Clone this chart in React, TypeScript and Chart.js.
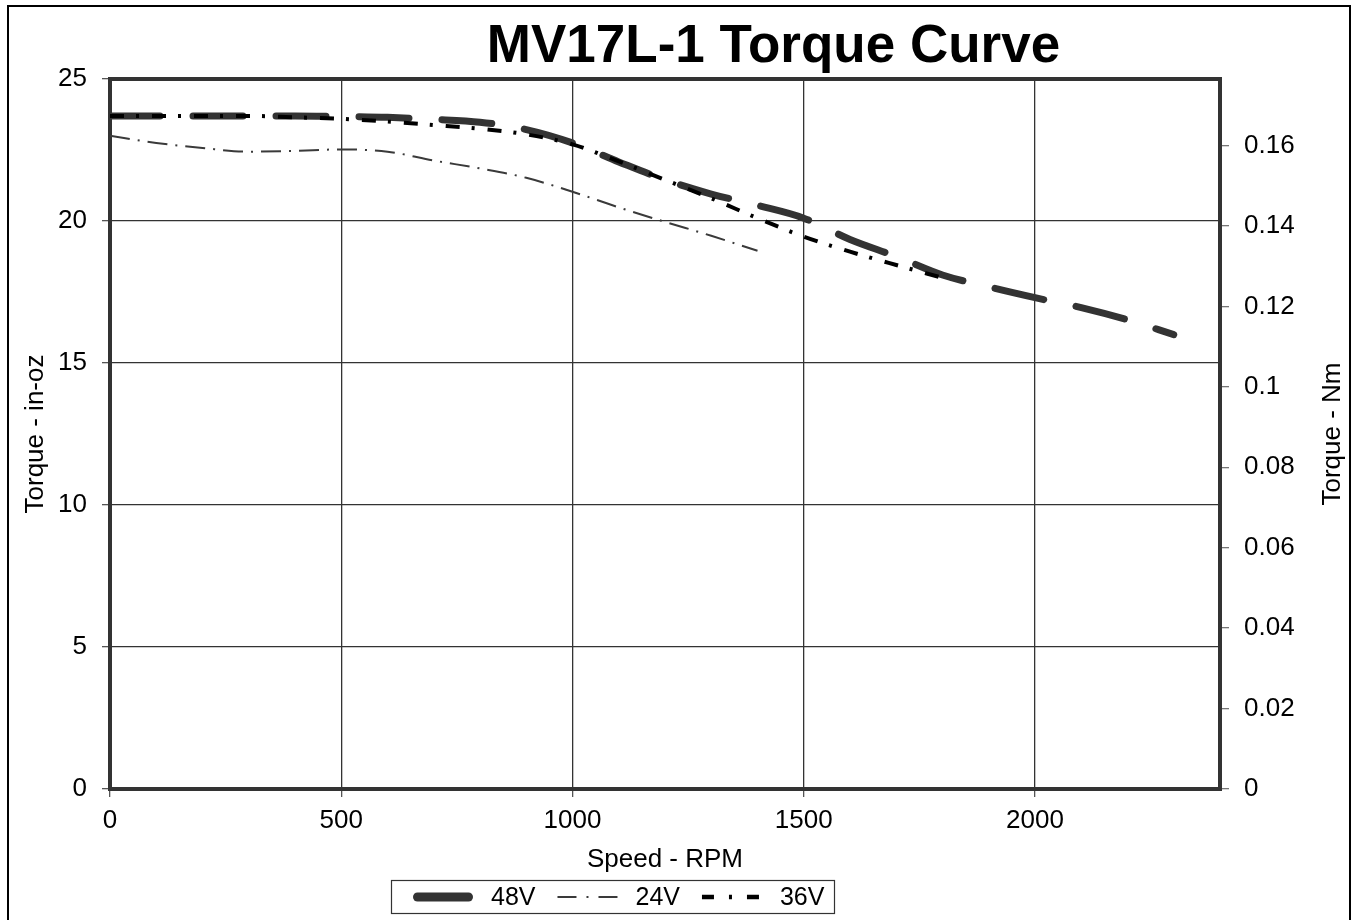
import React, { useEffect, useRef } from "react";
import { Chart, registerables } from "chart.js";

Chart.register(...registerables);

// ---------- text ----------
const TITLE = "MV17L-1 Torque Curve";
const X_TITLE = "Speed - RPM";
const Y_TITLE = "Torque - in-oz";
const Y2_TITLE = "Torque - Nm";
const SERIES_LABELS = ["48V", "24V", "36V"];

// ---------- data (speed in RPM, torque in in-oz) ----------
const RPM_48 = [0, 100, 200, 300, 400, 500, 600, 700, 800, 900, 1000, 1100, 1200, 1300, 1400, 1500, 1600, 1700, 1800, 1900, 2000, 2100, 2200, 2300];
const TORQUE_48 = [23.7, 23.7, 23.7, 23.7, 23.7, 23.68, 23.65, 23.58, 23.48, 23.22, 22.75, 22.08, 21.45, 20.95, 20.55, 20.1, 19.35, 18.75, 18.1, 17.68, 17.3, 16.95, 16.52, 16.0];

const RPM_24 = [0, 100, 200, 300, 400, 500, 600, 700, 800, 900, 1000, 1100, 1200, 1300, 1400];
const TORQUE_24 = [23.0, 22.75, 22.57, 22.44, 22.47, 22.52, 22.44, 22.13, 21.85, 21.52, 21.03, 20.48, 19.97, 19.48, 18.95];

const RPM_36 = [0, 100, 200, 300, 400, 500, 600, 700, 800, 900, 1000, 1100, 1200, 1300, 1400, 1500, 1600, 1700, 1800];
const TORQUE_36 = [23.7, 23.7, 23.7, 23.7, 23.65, 23.6, 23.5, 23.38, 23.25, 23.05, 22.7, 22.1, 21.45, 20.8, 20.1, 19.45, 18.92, 18.45, 18.0];

// ---------- axes ----------
const X_MIN = 0;
const X_MAX = 2400;
const X_TICKS = [0, 500, 1000, 1500, 2000];
const Y_MIN = 0;
const Y_MAX = 25;
const Y_STEP = 5;
const NM_PER_INOZ = 0.00706155;
const Y2_STEP = 0.02;

const FONT = "'Liberation Sans', Arial, Helvetica, sans-serif";

const toPoints = (xs: number[], ys: number[]) => xs.map((x, i) => ({ x, y: ys[i] }));

const framePlugin = {
  id: "plotFrame",
  beforeDatasetsDraw(chart: any) {
    const { ctx, chartArea: a } = chart;
    ctx.save();
    ctx.strokeStyle = "#333";
    ctx.lineWidth = 4;
    ctx.strokeRect(a.left, a.top, a.right - a.left, a.bottom - a.top);
    ctx.restore();
  },
};

const textPlugin = {
  id: "extraText",
  afterDraw(chart: any) {
    const { ctx, chartArea: a } = chart;
    ctx.save();
    ctx.fillStyle = "#000";
    ctx.font = `bold 53px ${FONT}`;
    ctx.textAlign = "center";
    ctx.textBaseline = "alphabetic";
    ctx.fillText(TITLE, 773.5, 62);
    ctx.restore();

    ctx.save();
    ctx.fillStyle = "#000";
    ctx.font = `26px ${FONT}`;
    ctx.translate(1333, (a.top + a.bottom) / 2);
    ctx.rotate(-Math.PI / 2);
    ctx.textAlign = "center";
    ctx.textBaseline = "middle";
    ctx.fillText(Y2_TITLE, 0, 0);
    ctx.restore();
  },
};

const legendPlugin = {
  id: "boxLegend",
  afterDraw(chart: any) {
    const ctx = chart.ctx;
    const boxL = 391.5;
    const boxT = 880.5;
    const boxW = 443;
    const boxH = 33;
    ctx.save();
    ctx.strokeStyle = "#333";
    ctx.lineWidth = 1.2;
    ctx.strokeRect(boxL, boxT, boxW, boxH);
    const cy = boxT + boxH / 2;
    ctx.font = `25px ${FONT}`;
    ctx.textBaseline = "middle";
    ctx.textAlign = "left";
    let x = 413;
    chart.data.datasets.forEach((ds: any) => {
      ctx.save();
      ctx.strokeStyle = ds.borderColor;
      ctx.lineWidth = ds.legendWidth;
      ctx.lineCap = ds.legendCap;
      ctx.setLineDash(ds.legendDash);
      const inset = ds.legendCap === "round" ? ds.legendWidth / 2 : 0;
      ctx.beginPath();
      ctx.moveTo(x + inset, cy);
      ctx.lineTo(x + 60 - inset, cy);
      ctx.stroke();
      ctx.restore();
      ctx.fillStyle = "#000";
      ctx.fillText(ds.label, x + 78, cy + 1);
      x += 78 + ctx.measureText(ds.label).width + 22;
    });
    ctx.restore();
  },
};

export default function App() {
  const ref = useRef<HTMLCanvasElement | null>(null);

  useEffect(() => {
    if (!ref.current) return;
    Chart.defaults.font.family = FONT;
    const tickFont = { family: FONT, size: 26 };
    const chart = new Chart(ref.current, {
      type: "line",
      data: {
        datasets: [
          {
            label: SERIES_LABELS[0],
            data: toPoints(RPM_48, TORQUE_48),
            borderColor: "#333333",
            borderWidth: 7,
            borderDash: [50, 33],
            borderCapStyle: "round",
            pointRadius: 0,
            cubicInterpolationMode: "monotone",
            fill: false,
            order: 2,
            legendDash: [],
            legendWidth: 9,
            legendCap: "round",
          } as any,
          {
            label: SERIES_LABELS[1],
            data: toPoints(RPM_24, TORQUE_24),
            borderColor: "#3a3a3a",
            borderWidth: 2,
            borderDash: [20, 8, 2, 8],
            borderCapStyle: "butt",
            pointRadius: 0,
            cubicInterpolationMode: "monotone",
            fill: false,
            order: 1,
            legendDash: [19, 10, 2, 10],
            legendWidth: 2,
            legendCap: "butt",
          } as any,
          {
            label: SERIES_LABELS[2],
            data: toPoints(RPM_36, TORQUE_36),
            borderColor: "#000000",
            borderWidth: 4,
            borderDash: [14, 12, 3, 13],
            borderCapStyle: "butt",
            pointRadius: 0,
            cubicInterpolationMode: "monotone",
            fill: false,
            order: 0,
            legendDash: [12, 15, 3, 15],
            legendWidth: 4.5,
            legendCap: "butt",
          } as any,
        ],
      },
      options: {
        animation: false,
        responsive: false,
        maintainAspectRatio: false,
        layout: { padding: { top: 79, left: 0, right: 0, bottom: 0 } },
        plugins: {
          legend: { display: false },
          title: { display: false },
          tooltip: { enabled: false },
        },
        scales: {
          x: {
            type: "linear",
            position: "bottom",
            min: X_MIN,
            max: X_MAX,
            afterBuildTicks: (s: any) => {
              s.ticks = X_TICKS.map((v) => ({ value: v }));
            },
            ticks: {
              padding: 8,
              color: "#000",
              font: tickFont,
              maxRotation: 0,
              autoSkip: false,
              callback: (v: any) => String(v),
            },
            grid: { color: "#333", lineWidth: 1.3, tickLength: 8, tickColor: "#555" },
            border: { display: false },
            title: {
              display: true,
              text: X_TITLE,
              color: "#000",
              font: tickFont,
              padding: { top: 0, bottom: 44.4 },
            },
            afterFit: (s: any) => {
              s.height = 131;
            },
          },
          y: {
            type: "linear",
            position: "left",
            min: Y_MIN,
            max: Y_MAX,
            ticks: { stepSize: Y_STEP, padding: 15, color: "#000", font: tickFont },
            grid: { color: "#333", lineWidth: 1.3, tickLength: 8, tickColor: "#555" },
            border: { display: false },
            title: {
              display: true,
              text: Y_TITLE,
              color: "#000",
              font: tickFont,
              padding: { top: 20, bottom: 0 },
            },
            afterFit: (s: any) => {
              s.width = 110;
            },
          },
          y1: {
            type: "linear",
            position: "right",
            min: Y_MIN * NM_PER_INOZ,
            max: Y_MAX * NM_PER_INOZ,
            ticks: {
              stepSize: Y2_STEP,
              includeBounds: false,
              padding: 15,
              color: "#000",
              font: tickFont,
              callback: (v: any) => String(Number(Number(v).toFixed(2))),
            },
            grid: { drawOnChartArea: false, lineWidth: 1.3, tickLength: 9, tickColor: "#777" },
            border: { display: false },
            afterFit: (s: any) => {
              s.width = 132;
            },
          },
        },
      } as any,
      plugins: [framePlugin, textPlugin, legendPlugin],
    });
    return () => chart.destroy();
  }, []);

  return (
    <div
      style={{
        position: "fixed",
        left: 0,
        top: 0,
        width: 1352,
        height: 920,
        overflow: "hidden",
        background: "#fff",
      }}
    >
      <canvas
        ref={ref}
        width={1352}
        height={920}
        style={{ position: "absolute", left: 0, top: 0, width: 1352, height: 920 }}
      />
      <div
        style={{
          position: "absolute",
          left: 7,
          top: 5,
          width: 1344,
          height: 960,
          border: "2.5px solid #000",
          boxSizing: "border-box",
          pointerEvents: "none",
        }}
      />
    </div>
  );
}
